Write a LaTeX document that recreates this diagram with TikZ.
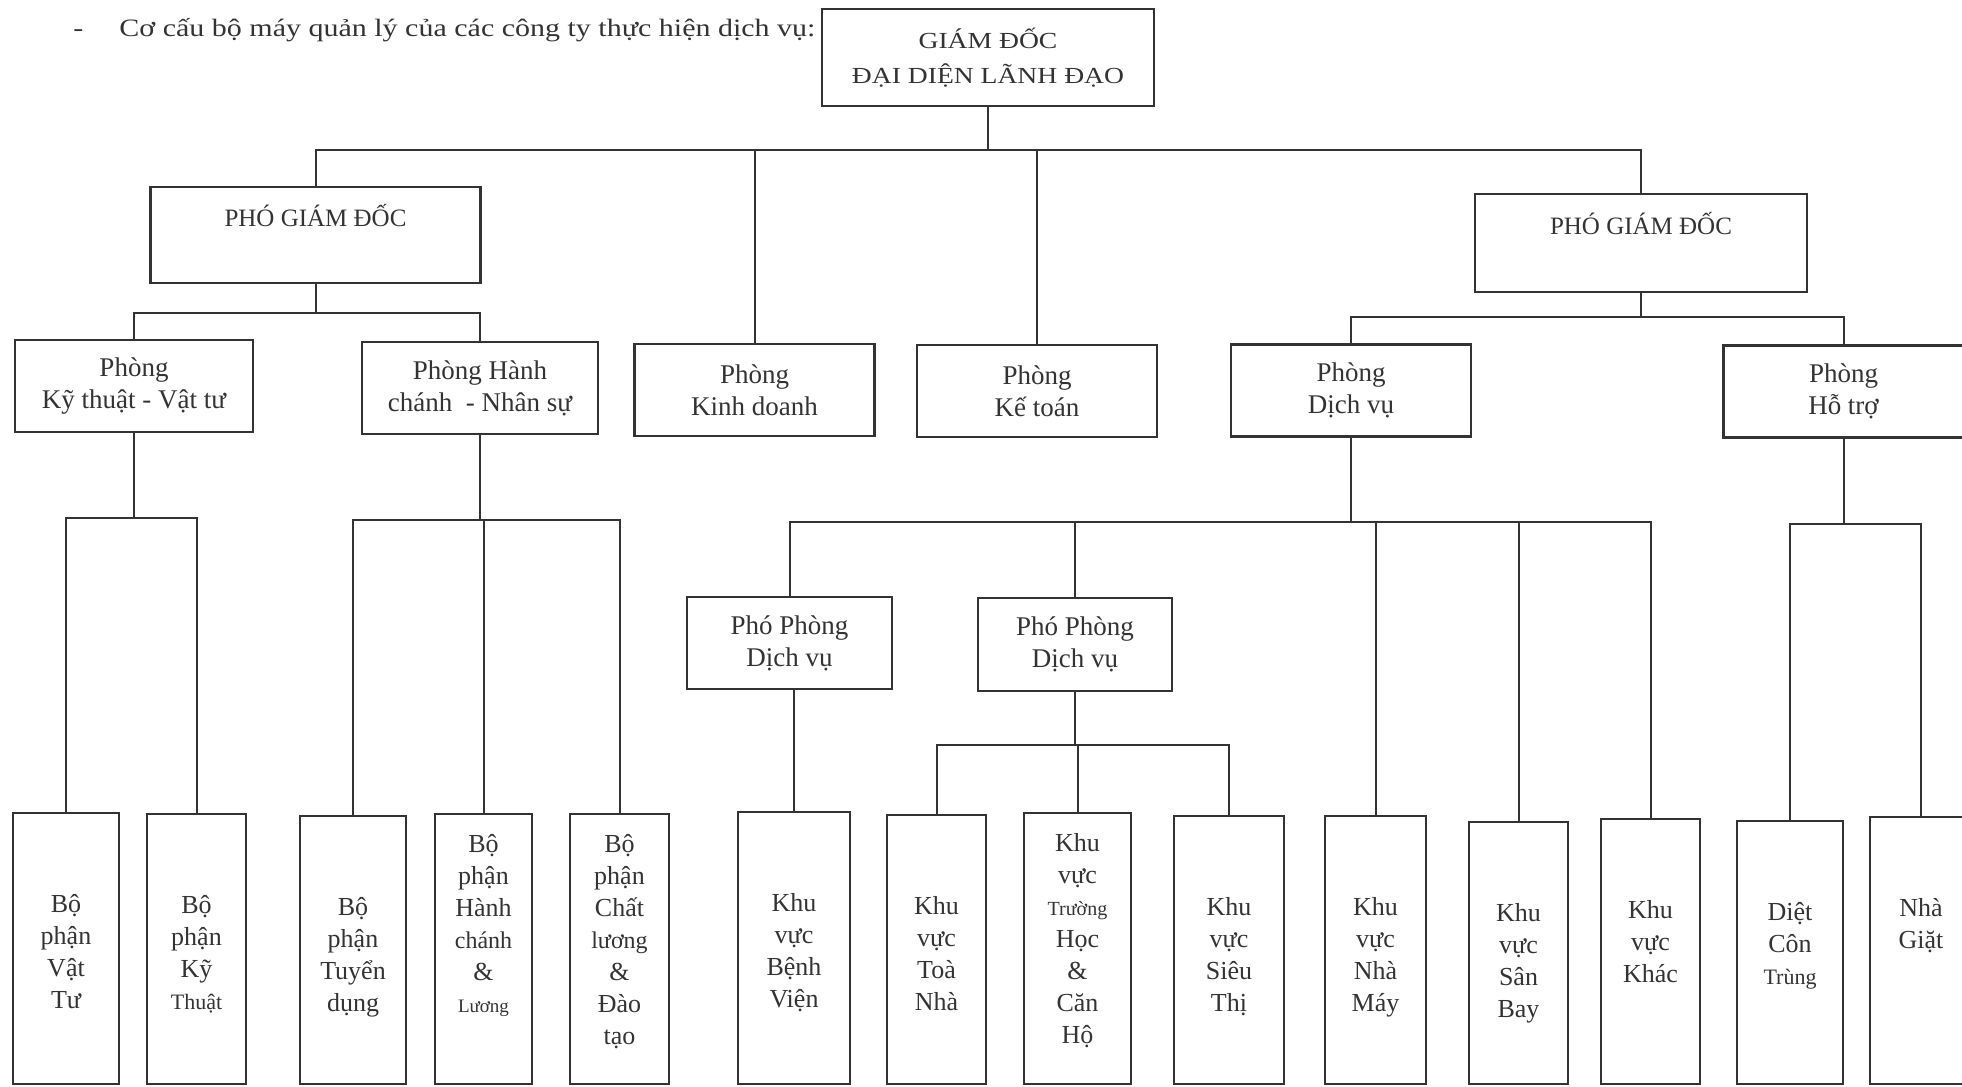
\documentclass[tikz,border=0pt]{standalone}
\usepackage{fontspec}
\setmainfont{Liberation Serif}
\newfontfamily\widefont{Liberation Serif}[FakeStretch=1.2]
\usetikzlibrary{positioning}
\newcommand{\nho}[2]{{\fontsize{#1}{16}\selectfont #2}}

\begin{document}
\begin{tikzpicture}[x=0.5pt, y=-0.5pt, color=black!80,
  box/.style={draw, line width=1.2pt, align=center, inner sep=0pt, outer sep=0pt},
  headbox/.style={box, minimum width=166pt, minimum height=48.5pt, font=\widefont\fontsize{11.5}{17.5}\selectfont},
  pgdbox/.style={box, minimum width=165pt, minimum height=48pt, font=\fontsize{12.5}{16}\selectfont},
  phongbox/.style={box, minimum width=120pt, minimum height=46pt, font=\fontsize{13.5}{16}\selectfont},
  leafbox/.style 2 args={box, anchor=north, minimum width=#1, minimum height=#2},
  leaftext/.style={align=center, inner sep=0pt, font=\fontsize{13}{16}\selectfont, execute at begin node=\strut},
  link/.style={line width=1pt}]
\useasboundingbox (0,0) rectangle (1962,1086);
\clip (0,0) rectangle (1962,1086);

\node[anchor=base west, inner sep=0pt, font=\widefont\fontsize{12.5}{15}\selectfont] (title) at (73,37)
  {-\hspace{18pt}Cơ cấu bộ máy quản lý của các công ty thực hiện dịch vụ:};

% ban giam doc
\node[headbox] (gd) at (988,57.5) {GIÁM ĐỐC\\ĐẠI DIỆN LÃNH ĐẠO};
\node[pgdbox] (pgd1) at (315.5,235) {PHÓ GIÁM ĐỐC\\[4pt]\mbox{}};
\node[pgdbox, minimum width=166pt, minimum height=49pt] (pgd2) at (1641,243) {PHÓ GIÁM ĐỐC\\[4pt]\mbox{}};

% cac phong
\node[phongbox, minimum width=119pt] (ktvt) at (134,386) {Phòng\\Kỹ thuật - Vật tư};
\node[phongbox, minimum width=118pt] (hcns) at (480,388) {Phòng Hành\\chánh~ - Nhân sự};
\node[phongbox] (kinhdoanh) at (754.5,390) {Phòng\\Kinh doanh};
\node[phongbox] (ketoan) at (1037,391) {Phòng\\Kế toán};
\node[phongbox] (dichvu) at (1351,390.5) {Phòng\\Dịch vụ};
\node[phongbox] (hotro) at (1843.5,391.5) {Phòng\\Hỗ trợ};
\node[phongbox, minimum width=102.5pt] (ppdv1) at (789.5,643) {Phó Phòng\\Dịch vụ};
\node[phongbox, minimum width=97pt, minimum height=46.5pt] (ppdv2) at (1075,644.5) {Phó Phòng\\Dịch vụ};

% bo phan / khu vuc
\node[leafbox={53pt}{135.5pt}] (vattu) at (66,813) {};
\node[leafbox={49.5pt}{135pt}] (kythuat) at (196.5,814) {};
\node[leafbox={53pt}{134pt}] (tuyendung) at (353,816) {};
\node[leafbox={48.5pt}{135pt}] (hanhchanh) at (483.5,814) {};
\node[leafbox={49.5pt}{135pt}] (chatluong) at (619.5,814) {};
\node[leafbox={56pt}{136pt}] (benhvien) at (794,812) {};
\node[leafbox={49.5pt}{134.5pt}] (toanha) at (936.5,815) {};
\node[leafbox={53.5pt}{135.5pt}] (truonghoc) at (1077.5,813) {};
\node[leafbox={55pt}{134pt}] (sieuthi) at (1229,816) {};
\node[leafbox={50.5pt}{134pt}] (nhamay) at (1375.5,816) {};
\node[leafbox={49.5pt}{131pt}] (sanbay) at (1518.5,822) {};
\node[leafbox={49.5pt}{132.5pt}] (khac) at (1650.5,819) {};
\node[leafbox={53pt}{131.5pt}] (dietcon) at (1790,821) {};
\node[leafbox={51pt}{133.5pt}] (nhagiat) at (1921,817) {};

\node[leaftext, below=40.5pt of vattu.north] (t_vattu) {Bộ\\phận\\Vật\\Tư};
\node[leaftext, below=40.5pt of kythuat.north] (t_kythuat) {Bộ\\phận\\Kỹ\\\nho{11}{Thuật}};
\node[leaftext, below=40.5pt of tuyendung.north] (t_tuyendung) {Bộ\\phận\\Tuyển\\dụng};
\node[leaftext, below=10pt of hanhchanh.north] (t_hanhchanh) {Bộ\\phận\\Hành\\\nho{12}{chánh}\\\&\\\nho{9.5}{Lương}};
\node[leaftext, below=10pt of chatluong.north] (t_chatluong) {Bộ\\phận\\Chất\\\nho{12}{lương}\\\&\\Đào\\tạo};
\node[leaftext, below=40.5pt of benhvien.north] (t_benhvien) {Khu\\vực\\Bệnh\\Viện};
\node[leaftext, below=40.5pt of toanha.north] (t_toanha) {Khu\\vực\\Toà\\Nhà};
\node[leaftext, below=10pt of truonghoc.north] (t_truonghoc) {Khu\\vực\\\nho{10}{Trường}\\Học\\\&\\Căn\\Hộ};
\node[leaftext, below=40.5pt of sieuthi.north] (t_sieuthi) {Khu\\vực\\Siêu\\Thị};
\node[leaftext, below=40.5pt of nhamay.north] (t_nhamay) {Khu\\vực\\Nhà\\Máy};
\node[leaftext, below=40.5pt of sanbay.north] (t_sanbay) {Khu\\vực\\Sân\\Bay};
\node[leaftext, below=40.5pt of khac.north] (t_khac) {Khu\\vực\\Khác};
\node[leaftext, below=40.5pt of dietcon.north] (t_dietcon) {Diệt\\Côn\\\nho{11}{Trùng}};
\node[leaftext, below=40.5pt of nhagiat.north] (t_nhagiat) {Nhà\\Giặt};

% duong noi
\coordinate (bus0) at (0,150);
\foreach \c in {pgd1,kinhdoanh,ketoan,pgd2}
  \draw[link] (gd.south) -- (gd.south |- bus0) -| (\c.north);
\coordinate (bus1) at (0,313);
\foreach \c in {ktvt,hcns}
  \draw[link] (pgd1.south) -- (pgd1.south |- bus1) -| (\c.north);
\coordinate (bus2) at (0,317);
\foreach \c in {dichvu,hotro}
  \draw[link] (pgd2.south) -- (pgd2.south |- bus2) -| (\c.north);
\coordinate (bus3) at (0,518);
\foreach \c in {vattu,kythuat}
  \draw[link] (ktvt.south) -- (ktvt.south |- bus3) -| (\c.north);
\coordinate (bus4) at (0,520);
\foreach \c in {tuyendung,hanhchanh,chatluong}
  \draw[link] (hcns.south) -- (hcns.south |- bus4) -| (\c.north);
\coordinate (bus5) at (0,522);
\foreach \c in {ppdv1,ppdv2,nhamay,sanbay,khac}
  \draw[link] (dichvu.south) -- (dichvu.south |- bus5) -| (\c.north);
\draw[link] (benhvien.north) -- (benhvien.north |- ppdv1.south);
\coordinate (bus6) at (0,745);
\foreach \c in {toanha,truonghoc,sieuthi}
  \draw[link] (ppdv2.south) -- (ppdv2.south |- bus6) -| (\c.north);
\coordinate (bus7) at (0,524);
\foreach \c in {dietcon,nhagiat}
  \draw[link] (hotro.south) -- (hotro.south |- bus7) -| (\c.north);
\end{tikzpicture}
\end{document}
